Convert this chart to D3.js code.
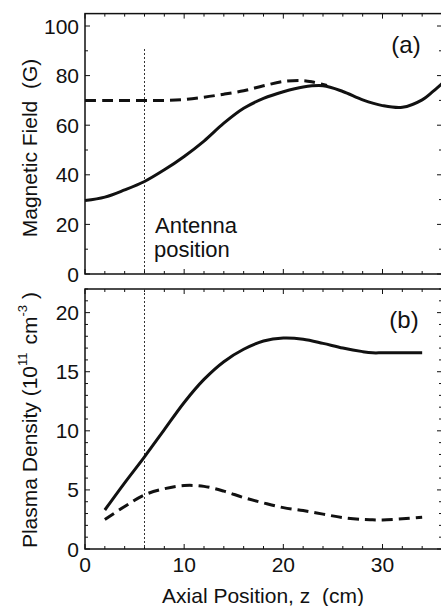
<!DOCTYPE html>
<html>
<head>
<meta charset="utf-8">
<script src="https://cdn.jsdelivr.net/npm/d3@7"></script>
<style>
  html, body { margin: 0; padding: 0; background: #fff; }
  svg { display: block; font-family: Arial, "Liberation Sans", sans-serif; }
</style>
</head>
<body>
<svg id="chart" width="441" height="606"></svg>
<script>
// axial positions (cm)
const zFieldSolid = [0, 2, 4, 6, 8, 10, 12, 14, 16, 18, 20, 22, 24, 26, 28, 30, 32, 34, 35, 36];
const fieldSolid  = [29.6, 31.0, 33.9, 37.3, 42.0, 47.4, 53.6, 60.8, 66.8, 70.8, 73.5, 75.4, 75.9, 73.6, 70.2, 67.9, 67.2, 70.2, 73.3, 76.8];
const zFieldDash  = [0, 2, 4, 6, 8, 10, 12, 14, 16, 18, 20, 22, 23, 24.4];
const fieldDash   = [70, 70, 70, 70, 70, 70.4, 71.3, 72.5, 73.9, 75.9, 77.6, 78.0, 77.4, 76.0];

const zDensity     = [2, 4, 6, 8, 10, 12, 14, 16, 18, 20, 22, 24, 26, 28, 29, 30, 32, 34];
const densitySolid = [3.3, 5.6, 7.8, 10.1, 12.4, 14.35, 15.85, 16.9, 17.6, 17.85, 17.75, 17.4, 17.0, 16.7, 16.6, 16.6, 16.6, 16.6];
const densityDash  = [2.5, 3.6, 4.58, 5.1, 5.37, 5.3, 4.9, 4.35, 3.9, 3.5, 3.25, 2.95, 2.66, 2.5, 2.47, 2.45, 2.55, 2.68];

const xTicks = [0, 10, 20, 30];
const fieldTicks = [0, 20, 40, 60, 80, 100];
const densityTicks = [0, 5, 10, 15, 20];
const antennaZ = 6;

const svg = d3.select('#chart');
const left = 85, right = 442;
const x = d3.scaleLinear().domain([0, 36]).range([left, right]);

const yA = d3.scaleLinear().domain([0, 105]).range([274, 13.6]);
const yB = d3.scaleLinear().domain([0, 22]).range([549, 289]);

function frame(y, majors, minorStep, showX) {
  const [y0, y1] = y.domain();
  const top = y.range()[1], bot = y.range()[0];
  const g = svg.append('g');
  g.append('rect')
    .attr('x', left).attr('y', top)
    .attr('width', right - left).attr('height', bot - top)
    .attr('fill', 'none').attr('stroke', '#111').attr('stroke-width', 1.5);

  // x ticks every 2, majors every 10
  d3.range(0, 36.01, 2).forEach(v => {
    const len = v % 10 === 0 ? 5 : 3;
    g.append('line').attr('x1', x(v)).attr('x2', x(v)).attr('y1', bot).attr('y2', bot - len)
      .attr('stroke', '#111').attr('stroke-width', 1);
    g.append('line').attr('x1', x(v)).attr('x2', x(v)).attr('y1', top).attr('y2', top + len)
      .attr('stroke', '#111').attr('stroke-width', 1);
  });
  // y ticks
  d3.range(y0, y1 + 0.01, minorStep).forEach(v => {
    const len = majors.includes(v) ? 5 : 3;
    g.append('line').attr('x1', left).attr('x2', left + len).attr('y1', y(v)).attr('y2', y(v))
      .attr('stroke', '#111').attr('stroke-width', 1);
    g.append('line').attr('x1', right - len).attr('x2', right).attr('y1', y(v)).attr('y2', y(v))
      .attr('stroke', '#111').attr('stroke-width', 1);
  });
  g.selectAll('text.ytick').data(majors).enter().append('text')
    .attr('x', 79).attr('y', d => y(d)).attr('dy', '0.36em')
    .attr('text-anchor', 'end').attr('font-size', 21).attr('fill', '#111')
    .text(d => d);
  if (showX) {
    g.selectAll('text.xtick').data(xTicks).enter().append('text')
      .attr('x', d => x(d)).attr('y', 572)
      .attr('text-anchor', 'middle').attr('font-size', 21).attr('fill', '#111')
      .text(d => d);
  }
  // antenna position
  g.append('line').attr('x1', x(antennaZ)).attr('x2', x(antennaZ))
    .attr('y1', showX ? top : 49).attr('y2', bot)
    .attr('stroke', '#333').attr('stroke-width', 1).attr('stroke-dasharray', '2,2');
}

frame(yA, fieldTicks, 10, false);
frame(yB, densityTicks, 1, true);

function curve(zs, vs, y, dashed) {
  const line = d3.line().x(d => x(d[0])).y(d => y(d[1])).curve(d3.curveCatmullRom.alpha(0.5));
  svg.append('path')
    .attr('d', line(d3.zip(zs, vs)))
    .attr('fill', 'none').attr('stroke', '#111').attr('stroke-width', 3)
    .attr('stroke-dasharray', dashed ? '11,6' : null);
}

curve(zFieldDash, fieldDash, yA, true);
curve(zFieldSolid, fieldSolid, yA, false);
curve(zDensity, densitySolid, yB, false);
curve(zDensity, densityDash, yB, true);

// labels
svg.append('text').attr('x', 406).attr('y', 53).attr('text-anchor', 'middle')
  .attr('font-size', 24).attr('fill', '#111').text('(a)');
svg.append('text').attr('x', 404).attr('y', 328).attr('text-anchor', 'middle')
  .attr('font-size', 24).attr('fill', '#111').text('(b)');

svg.append('text').attr('x', 155).attr('y', 233).attr('font-size', 22).attr('fill', '#111').text('Antenna');
svg.append('text').attr('x', 154).attr('y', 257).attr('font-size', 22).attr('fill', '#111').text('position');

svg.append('text')
  .attr('transform', 'translate(37,148) rotate(-90)')
  .attr('text-anchor', 'middle').attr('font-size', 21).attr('fill', '#111')
  .attr('xml:space', 'preserve')
  .text('Magnetic Field  (G)');

const yl = svg.append('text')
  .attr('transform', 'translate(37,420) rotate(-90)')
  .attr('text-anchor', 'middle').attr('font-size', 21).attr('fill', '#111');
yl.append('tspan').text('Plasma Density (10');
yl.append('tspan').attr('font-size', 13).attr('dy', -10).text('11');
yl.append('tspan').attr('dy', 10).attr('dx', 8).text('cm');
yl.append('tspan').attr('font-size', 13).attr('dy', -10).text('-3');
yl.append('tspan').attr('dy', 10).attr('dx', 6).text(')');

svg.append('text').attr('x', 263).attr('y', 603).attr('text-anchor', 'middle')
  .attr('font-size', 21).attr('fill', '#111')
  .attr('xml:space', 'preserve')
  .text('Axial Position, z  (cm)');
</script>
</body>
</html>
